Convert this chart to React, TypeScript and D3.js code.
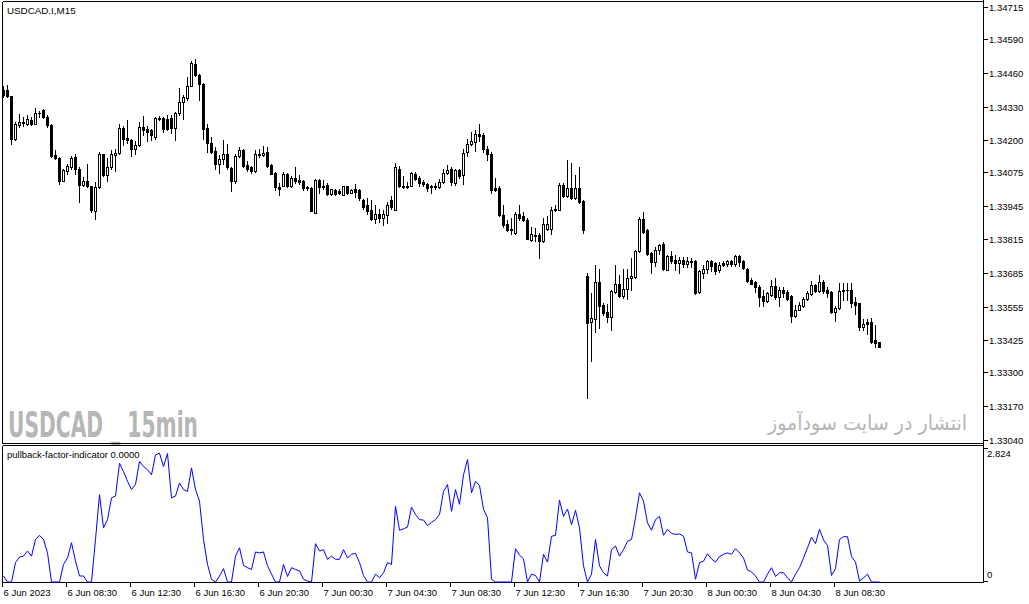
import React from "react";
import * as d3 from "d3";

const symbolLabel = "USDCAD.I,M15";
const indicatorLabel = "pullback-factor-indicator 0.0000";
const watermarkLeft = "USDCAD _ 15min";
const watermarkRight = "انتشار در سایت سودآموز";

const openP = [
1.34393,1.34396,1.34370,1.34206,1.34258,1.34265,1.34264,1.34277,1.34264,1.34306,
1.34316,1.34290,1.34258,1.34143,1.34132,1.34043,1.34080,1.34094,1.34134,1.34090,
1.34028,1.34040,1.34021,1.33925,1.34017,1.34145,1.34064,1.34094,1.34143,1.34152,
1.34248,1.34208,1.34202,1.34166,1.34180,1.34251,1.34243,1.34238,1.34212,1.34284,
1.34284,1.34282,1.34284,1.34248,1.34307,1.34348,1.34365,1.34411,1.34496,1.34451,
1.34417,1.34248,1.34189,1.34156,1.34106,1.34126,1.34147,1.34092,1.34040,1.34137,
1.34163,1.34102,1.34094,1.34080,1.34147,1.34141,1.34154,1.34102,1.34072,1.34017,
1.34024,1.34070,1.34022,1.34054,1.34044,1.34040,1.34018,1.34013,1.33918,1.34047,
1.34024,1.34028,1.33992,1.34005,1.34002,1.33989,1.34021,1.33996,1.34009,1.34005,
1.33967,1.33948,1.33928,1.33893,1.33915,1.33900,1.33908,1.33967,1.33931,1.34090,
1.34024,1.34024,1.34023,1.34070,1.34054,1.34037,1.34031,1.34021,1.34018,1.34017,
1.34036,1.34072,1.34090,1.34034,1.34083,1.34064,1.34154,1.34184,1.34192,1.34225,
1.34219,1.34167,1.34147,1.34013,1.34013,1.33909,1.33876,1.33857,1.33840,1.33915,
1.33905,1.33892,1.33814,1.33831,1.33831,1.33811,1.33857,1.33857,1.33928,1.33931,
1.34028,1.33982,1.34013,1.33974,1.34013,1.33963,1.33672,1.33494,1.33508,1.33652,
1.33563,1.33533,1.33514,1.33611,1.33641,1.33595,1.33625,1.33664,1.33669,1.33770,
1.33895,1.33853,1.33762,1.33727,1.33776,1.33796,1.33698,1.33750,1.33737,1.33724,
1.33734,1.33721,1.33730,1.33730,1.33611,1.33685,1.33702,1.33730,1.33724,1.33695,
1.33724,1.33721,1.33730,1.33721,1.33750,1.33730,1.33702,1.33657,1.33649,1.33630,
1.33595,1.33576,1.33599,1.33634,1.33592,1.33618,1.33611,1.33595,1.33517,1.33543,
1.33556,1.33583,1.33602,1.33637,1.33615,1.33649,1.33618,1.33611,1.33533,1.33550,
1.33615,1.33620,1.33618,1.33572,1.33567,1.33477,1.33494,1.33494,1.33424,1.33417
];

const highP = [
1.34409,1.34413,1.34370,1.34270,1.34300,1.34288,1.34297,1.34290,1.34326,1.34313,
1.34321,1.34297,1.34261,1.34160,1.34134,1.34090,1.34109,1.34138,1.34147,1.34096,
1.34057,1.34109,1.34024,1.34037,1.34154,1.34147,1.34129,1.34160,1.34166,1.34261,
1.34254,1.34277,1.34206,1.34196,1.34270,1.34293,1.34254,1.34245,1.34290,1.34293,
1.34290,1.34297,1.34297,1.34309,1.34400,1.34376,1.34445,1.34505,1.34516,1.34455,
1.34422,1.34264,1.34212,1.34173,1.34141,1.34202,1.34186,1.34096,1.34145,1.34173,
1.34166,1.34118,1.34099,1.34160,1.34166,1.34177,1.34173,1.34109,1.34076,1.34034,
1.34076,1.34072,1.34060,1.34096,1.34064,1.34044,1.34024,1.34018,1.34051,1.34051,
1.34044,1.34032,1.34009,1.34009,1.34009,1.34024,1.34024,1.34012,1.34031,1.34009,
1.33971,1.33974,1.33967,1.33948,1.33935,1.33928,1.33959,1.33982,1.34112,1.34099,
1.34060,1.34036,1.34076,1.34076,1.34060,1.34044,1.34032,1.34028,1.34032,1.34051,
1.34090,1.34102,1.34094,1.34090,1.34090,1.34164,1.34203,1.34232,1.34238,1.34261,
1.34227,1.34176,1.34153,1.34052,1.34021,1.33948,1.33889,1.33897,1.33920,1.33948,
1.33920,1.33897,1.33865,1.33858,1.33839,1.33900,1.33905,1.33940,1.33948,1.34032,
1.34032,1.34122,1.34110,1.34064,1.34096,1.33967,1.33684,1.33608,1.33715,1.33702,
1.33569,1.33566,1.33621,1.33718,1.33676,1.33699,1.33702,1.33744,1.33776,1.33902,
1.33921,1.33857,1.33766,1.33784,1.33799,1.33804,1.33754,1.33770,1.33754,1.33747,
1.33747,1.33747,1.33744,1.33734,1.33698,1.33715,1.33734,1.33734,1.33727,1.33727,
1.33731,1.33734,1.33734,1.33754,1.33754,1.33734,1.33703,1.33664,1.33656,1.33637,
1.33621,1.33611,1.33659,1.33664,1.33629,1.33629,1.33621,1.33599,1.33563,1.33573,
1.33592,1.33615,1.33656,1.33643,1.33676,1.33659,1.33629,1.33615,1.33556,1.33646,
1.33646,1.33646,1.33646,1.33592,1.33569,1.33508,1.33508,1.33512,1.33482,1.33417
];

const lowP = [
1.34367,1.34367,1.34186,1.34202,1.34251,1.34254,1.34258,1.34258,1.34261,1.34290,
1.34284,1.34251,1.34134,1.34126,1.34031,1.34040,1.34070,1.34090,1.34070,1.33960,
1.34024,1.34018,1.33921,1.33893,1.34013,1.34060,1.34041,1.34090,1.34081,1.34147,
1.34180,1.34189,1.34138,1.34147,1.34176,1.34219,1.34196,1.34199,1.34206,1.34277,
1.34232,1.34238,1.34227,1.34199,1.34297,1.34280,1.34357,1.34409,1.34448,1.34354,
1.34206,1.34154,1.34150,1.34090,1.34072,1.34106,1.34090,1.34002,1.34034,1.34134,
1.34094,1.34081,1.34072,1.34076,1.34134,1.34137,1.34094,1.34067,1.34005,1.33989,
1.34021,1.34018,1.34020,1.34034,1.34031,1.34005,1.34005,1.33924,1.33916,1.33997,
1.34009,1.33989,1.33989,1.33989,1.33992,1.33986,1.33992,1.33994,1.33979,1.33967,
1.33935,1.33912,1.33889,1.33877,1.33881,1.33873,1.33877,1.33932,1.33928,1.34018,
1.34013,1.34016,1.34021,1.34047,1.34024,1.34024,1.34002,1.33994,1.34009,1.34013,
1.34032,1.34070,1.34028,1.34028,1.34052,1.34031,1.34137,1.34180,1.34156,1.34195,
1.34153,1.34122,1.33997,1.34001,1.33905,1.33862,1.33846,1.33838,1.33838,1.33889,
1.33885,1.33815,1.33811,1.33811,1.33745,1.33807,1.33850,1.33838,1.33924,1.33928,
1.33979,1.33979,1.33971,1.33971,1.33955,1.33840,1.33202,1.33343,1.33456,1.33473,
1.33521,1.33494,1.33466,1.33608,1.33592,1.33590,1.33586,1.33618,1.33667,1.33766,
1.33839,1.33754,1.33685,1.33711,1.33757,1.33698,1.33695,1.33724,1.33695,1.33685,
1.33708,1.33708,1.33708,1.33605,1.33608,1.33664,1.33685,1.33692,1.33680,1.33688,
1.33711,1.33711,1.33711,1.33711,1.33711,1.33702,1.33649,1.33641,1.33611,1.33556,
1.33556,1.33572,1.33595,1.33586,1.33556,1.33592,1.33582,1.33494,1.33514,1.33540,
1.33553,1.33579,1.33599,1.33611,1.33611,1.33608,1.33592,1.33530,1.33498,1.33546,
1.33582,1.33582,1.33553,1.33525,1.33466,1.33466,1.33447,1.33414,1.33400,1.33397
];

const closeP = [
1.34374,1.34371,1.34206,1.34261,1.34270,1.34270,1.34282,1.34261,1.34306,1.34305,
1.34290,1.34258,1.34137,1.34132,1.34040,1.34083,1.34099,1.34129,1.34090,1.34028,
1.34040,1.34022,1.33928,1.34017,1.34145,1.34064,1.34096,1.34145,1.34152,1.34248,
1.34206,1.34202,1.34164,1.34180,1.34249,1.34241,1.34232,1.34219,1.34284,1.34283,
1.34245,1.34245,1.34248,1.34307,1.34348,1.34367,1.34411,1.34499,1.34451,1.34417,
1.34245,1.34189,1.34154,1.34106,1.34126,1.34147,1.34094,1.34043,1.34137,1.34163,
1.34099,1.34090,1.34080,1.34147,1.34141,1.34150,1.34099,1.34070,1.34017,1.34009,
1.34070,1.34024,1.34054,1.34041,1.34037,1.34013,1.34013,1.33925,1.34047,1.34018,
1.34018,1.33992,1.34009,1.33992,1.33994,1.34021,1.33994,1.34005,1.33999,1.33977,
1.33939,1.33925,1.33893,1.33915,1.33900,1.33912,1.33948,1.33939,1.34094,1.34022,
1.34018,1.34018,1.34072,1.34051,1.34034,1.34031,1.34013,1.34017,1.34023,1.34036,
1.34074,1.34086,1.34036,1.34083,1.34060,1.34151,1.34184,1.34196,1.34225,1.34215,
1.34167,1.34147,1.34005,1.34005,1.33909,1.33870,1.33850,1.33850,1.33915,1.33900,
1.33892,1.33818,1.33835,1.33830,1.33809,1.33876,1.33876,1.33928,1.33935,1.34028,
1.33982,1.34013,1.33974,1.34013,1.33960,1.33853,1.33491,1.33512,1.33649,1.33556,
1.33530,1.33514,1.33615,1.33641,1.33595,1.33625,1.33664,1.33672,1.33770,1.33895,
1.33843,1.33757,1.33727,1.33776,1.33792,1.33702,1.33750,1.33731,1.33724,1.33734,
1.33721,1.33730,1.33726,1.33608,1.33692,1.33702,1.33730,1.33711,1.33692,1.33718,
1.33718,1.33730,1.33721,1.33750,1.33727,1.33705,1.33653,1.33644,1.33629,1.33592,
1.33576,1.33608,1.33634,1.33592,1.33618,1.33608,1.33586,1.33517,1.33543,1.33560,
1.33586,1.33606,1.33637,1.33615,1.33649,1.33615,1.33608,1.33533,1.33550,1.33615,
1.33621,1.33621,1.33569,1.33563,1.33474,1.33486,1.33486,1.33417,1.33414,1.33400
];

const pullback = [
0.13,0,0,0.42,0.54,0.56,0.67,0.56,0.92,1.01,
0.92,0.63,0,0,0,0.38,0.52,0.85,0.45,0.13,
0.13,0,0,0.92,1.89,1.17,1.35,1.82,1.86,2.57,
2.39,2.18,2.00,2.11,2.61,2.50,2.43,2.32,2.75,2.79,
2.50,2.78,1.82,1.86,2.14,2.00,1.96,2.47,2.00,1.75,
0.92,0.38,0.06,0,0.13,0.29,0,0,0.56,0.74,
0.36,0.31,0.27,0.65,0.63,0.65,0.35,0.17,0,0,
0.38,0.12,0.31,0.27,0.24,0.06,0.02,0,0.83,0.67,
0.70,0.49,0.56,0.49,0.49,0.70,0.52,0.60,0.62,0.42,
0.14,0,0,0.17,0.09,0.20,0.42,0.38,1.64,1.12,
1.15,1.19,1.62,1.46,1.35,1.34,1.22,1.29,1.35,1.46,
1.96,2.11,1.53,2.00,1.68,2.32,2.65,1.93,2.18,2.09,
1.57,1.39,0.06,0,0,0,0,0,0.72,0.58,
0.50,0,0.17,0.14,0,0.60,0.43,0.99,1.01,1.77,
1.42,1.58,1.24,1.55,1.17,0.35,0,0.17,0.92,0.35,
0.20,0.13,0.70,0.78,0.56,0.70,0.88,0.92,1.39,1.93,
1.75,1.28,1.12,1.35,1.42,1.01,1.14,1.05,1.03,1.04,
0.99,0.65,0.63,0.06,0.42,0.45,0.61,0.50,0.43,0.55,
0.60,0.63,0.60,0.72,0.63,0.52,0.26,0.22,0.13,0,
0,0.17,0.31,0.12,0.20,0.20,0.09,0,0.17,0.31,
0.52,0.74,0.97,0.83,1.14,0.91,0.79,0.14,0.29,0.92,
0.98,0.98,0.55,0.43,0.02,0.09,0.17,0,0,0
];

const priceTicks = [1.34715,1.34590,1.34460,1.34330,1.34200,1.34075,1.33945,1.33815,1.33685,1.33555,1.33425,1.33300,1.33170,1.33040];
const priceTickLabels = ["1.34715","1.34590","1.34460","1.34330","1.34200","1.34075","1.33945","1.33815","1.33685","1.33555","1.33425","1.33300","1.33170","1.33040"];

const timeLabels = ["6 Jun 2023","6 Jun 08:30","6 Jun 12:30","6 Jun 16:30","6 Jun 20:30","7 Jun 00:30","7 Jun 04:30","7 Jun 08:30","7 Jun 12:30","7 Jun 16:30","7 Jun 20:30","8 Jun 00:30","8 Jun 04:30","8 Jun 08:30"];
const timeLabelBars = [0,16,32,48,64,80,96,112,128,144,160,176,192,208];

const indMax = 2.824;
const indTickLabels = ["2.824", "0"];

const W = 1029, H = 604;
const LEFT = 2.5, RIGHT = 983.5;
const MAIN_TOP = 1.5, MAIN_BOTTOM = 443.5;
const SUB_TOP = 445.5, SUB_BOTTOM = 582.5;
const FONT = "'Liberation Sans', Arial, sans-serif";

export default function App() {
  const n = openP.length;
  const x = d3.scaleLinear().domain([0, n - 1]).range([3, 3 + 4 * (n - 1)]);
  const y = d3.scaleLinear().domain([1.33040, 1.34715]).range([439.5, 7.2]);
  const yi = d3.scaleLinear().domain([0, indMax]).range([582, 451.5]);

  const line = d3.line<number>()
    .x((_, i) => Math.round(x(i)) + 0.5)
    .y((v) => yi(v));

  const candles = openP.map((o, i) => {
    const c = closeP[i];
    const xc = Math.round(x(i)) + 0.5;
    const yH = Math.round(y(highP[i]));
    const yL = Math.round(y(lowP[i]));
    const yTop = Math.round(y(Math.max(o, c)));
    const yBot = Math.round(y(Math.min(o, c)));
    const up = c > o;
    const wick = <line key={"w" + i} x1={xc} x2={xc} y1={yH} y2={yL + 1} stroke="#000" strokeWidth={1} />;
    let body;
    if (yBot - yTop < 1) {
      body = <line key={"b" + i} x1={xc - 1.5} x2={xc + 1.5} y1={yTop + 0.5} y2={yTop + 0.5} stroke="#000" strokeWidth={1} />;
    } else if (up) {
      body = <rect key={"b" + i} x={xc - 1} y={yTop + 0.5} width={2} height={yBot - yTop} fill="#fff" stroke="#000" strokeWidth={1} />;
    } else {
      body = <rect key={"b" + i} x={xc - 1.5} y={yTop} width={3} height={yBot - yTop + 1} fill="#000" />;
    }
    return <g key={i}>{wick}{body}</g>;
  });

  return (
    <div style={{ position: "absolute", left: 0, top: 0, width: W, height: H, background: "#fff" }}>
      <svg width={W} height={H} style={{ display: "block" }} shapeRendering="crispEdges">
        <rect x={0} y={0} width={W} height={H} fill="#fff" />
        {/* watermark */}
        <text x={8} y={437} fontFamily="'Liberation Sans Narrow', 'DejaVu Sans Condensed', 'Liberation Sans', sans-serif"
          fontWeight="bold" fontSize={36} fill="#b6b6b6" textLength={190} lengthAdjust="spacingAndGlyphs"
          shapeRendering="auto">{watermarkLeft}</text>
        <text x={967} y={430} textAnchor="end" fontFamily="'DejaVu Sans', sans-serif" fontSize={21} fill="#b6b6b6"
          textLength={199} lengthAdjust="spacingAndGlyphs"
          shapeRendering="auto">{watermarkRight}</text>

        {/* candles */}
        <g>{candles}</g>

        {/* panel frames */}
        <line x1={LEFT} x2={RIGHT} y1={MAIN_TOP} y2={MAIN_TOP} stroke="#000" />
        <line x1={LEFT} x2={RIGHT} y1={MAIN_BOTTOM} y2={MAIN_BOTTOM} stroke="#000" />
        <line x1={LEFT} x2={RIGHT} y1={SUB_TOP} y2={SUB_TOP} stroke="#000" />
        <line x1={LEFT} x2={RIGHT} y1={SUB_BOTTOM} y2={SUB_BOTTOM} stroke="#000" />
        <line x1={LEFT} x2={LEFT} y1={MAIN_TOP} y2={MAIN_BOTTOM} stroke="#000" />
        <line x1={LEFT} x2={LEFT} y1={SUB_TOP} y2={SUB_BOTTOM} stroke="#000" />
        <line x1={RIGHT} x2={RIGHT} y1={0} y2={SUB_BOTTOM} stroke="#000" />

        {/* price axis */}
        {priceTicks.map((p, k) => {
          const ty = Math.round(y(p)) + 0.5;
          return (
            <g key={"pt" + k}>
              <line x1={RIGHT} x2={RIGHT + 4} y1={ty} y2={ty} stroke="#000" />
              <text x={989} y={ty + 3.5} fontFamily={FONT} fontSize={9.5} fill="#000" shapeRendering="auto">{priceTickLabels[k]}</text>
            </g>
          );
        })}

        {/* indicator */}
        <path d={line(pullback) || ""} fill="none" stroke="#0000ff" strokeWidth={1} shapeRendering="auto" />
        <line x1={RIGHT} x2={RIGHT + 4} y1={Math.round(yi(indMax)) - 3.5} y2={Math.round(yi(indMax)) - 3.5} stroke="#000" />
        <text x={987} y={yi(indMax) + 5} fontFamily={FONT} fontSize={9.5} fill="#000" shapeRendering="auto">{indTickLabels[0]}</text>
        <line x1={RIGHT} x2={RIGHT + 4} y1={SUB_BOTTOM - 1} y2={SUB_BOTTOM - 1} stroke="#000" />
        <text x={987} y={yi(0) - 4} fontFamily={FONT} fontSize={9.5} fill="#000" shapeRendering="auto">{indTickLabels[1]}</text>

        {/* time axis */}
        {timeLabelBars.map((b, k) => {
          const tx = Math.round(x(b)) - 0.5;
          return (
            <g key={"tt" + k}>
              <line x1={tx} x2={tx} y1={SUB_BOTTOM} y2={SUB_BOTTOM + 4} stroke="#000" />
              <text x={tx + 1} y={596} fontFamily={FONT} fontSize={9.5} fill="#000" shapeRendering="auto">{timeLabels[k]}</text>
            </g>
          );
        })}

        {/* labels */}
        <text x={7} y={14} fontFamily={FONT} fontSize={9.8} fill="#000" shapeRendering="auto">{symbolLabel}</text>
        <text x={7} y={457.5} fontFamily={FONT} fontSize={9.5} fill="#000" shapeRendering="auto">{indicatorLabel}</text>
      </svg>
    </div>
  );
}
